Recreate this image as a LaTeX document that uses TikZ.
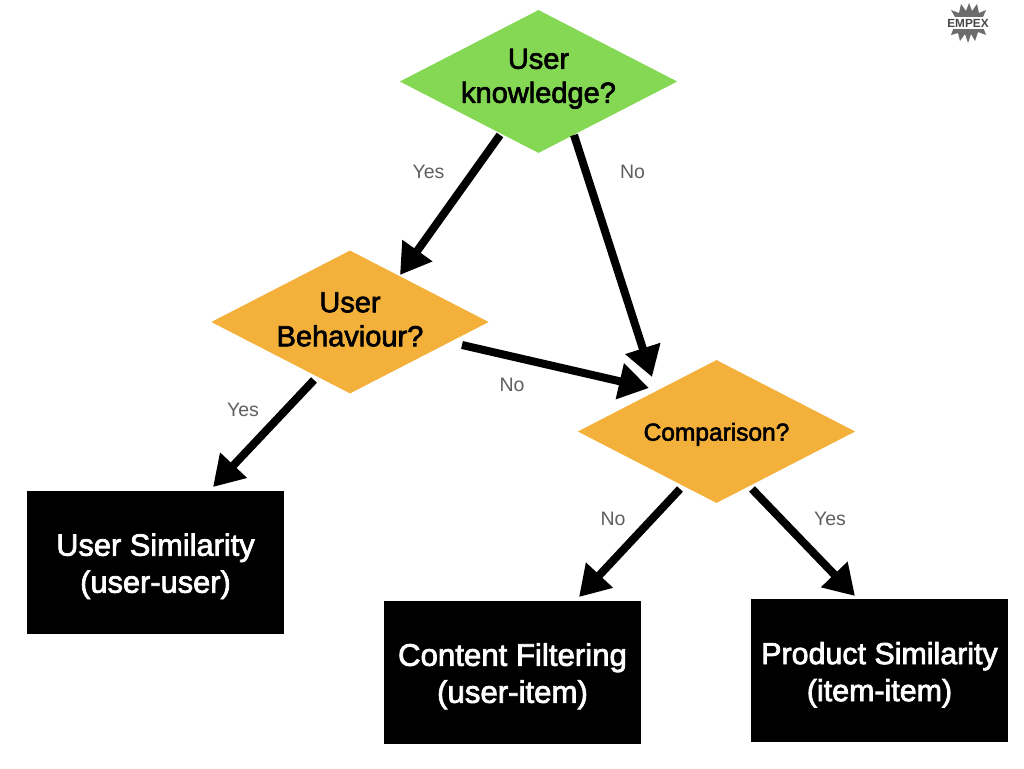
\documentclass[tikz,border=0pt]{standalone}
\usepackage{fontspec}
\setmainfont{Liberation Sans}
\newfontfamily\medfont[FakeBold=2.4]{Liberation Sans}
\newcommand{\shifttext}[2]{\raisebox{#1}[0.7em][0.2em]{#2}}
\usetikzlibrary{shapes.geometric,arrows.meta}
\definecolor{dgreen}{HTML}{85D853}
\definecolor{dorange}{HTML}{F3B13C}
\definecolor{lblgray}{HTML}{606060}
\tikzset{
  decision/.style={diamond,fill=#1,aspect=1.94,inner sep=0pt,minimum width=277.5pt,minimum height=143pt,align=center,font=\medfont\fontsize{29}{34}\selectfont,text=black},
  result/.style={rectangle,fill=black,text=white,inner sep=0pt,minimum width=257.5pt,minimum height=143.5pt,align=center},
  flow/.style={line width=8pt,-{Triangle[length=30pt,width=35pt]},black},
  lbl/.style={text=lblgray,font=\fontsize{19.5}{24}\selectfont,inner sep=0pt}
}
\begin{document}
\begin{tikzpicture}[x=1pt,y=-1pt]
\useasboundingbox (0,0) rectangle (1024,768);
\fill[white] (0,0) rectangle (1024,768);
\node[decision=dgreen] (know) at (538.5,81.5) {\shifttext{3pt}{User}\\\shifttext{3pt}{knowledge?}};
\node[decision=dorange] (behav) at (350,322) {\shifttext{0pt}{User}\\\shifttext{0pt}{Behaviour?}};
\node[decision=dorange,font=\medfont\fontsize{24.5}{28}\selectfont] (comp) at (716.5,431.5) {\shifttext{-3pt}{Comparison?}};
\node[result,font=\medfont\fontsize{30.8}{37}\selectfont] (simuser) at (155.5,562.5) {\shifttext{-4pt}{User Similarity}\\\shifttext{-4pt}{(user-user)}};
\node[result,font=\medfont\fontsize{31.2}{37}\selectfont] (content) at (512.5,672.5) {\shifttext{-4pt}{Content Filtering}\\\shifttext{-4pt}{(user-item)}};
\node[result,font=\medfont\fontsize{30.4}{37}\selectfont] (prod) at (879.5,670.5) {\shifttext{-4.5pt}{Product Similarity}\\\shifttext{-4.5pt}{(item-item)}};
\coordinate (k1) at (500,135);
\coordinate (k1e) at (400,275);
\coordinate (k2) at (574,135);
\coordinate (k2e) at (652,377);
\coordinate (b1) at (462,345);
\coordinate (b1e) at (649,388);
\coordinate (b2) at (314,380);
\coordinate (b2e) at (213,487);
\coordinate (c1) at (680,489);
\coordinate (c1e) at (579,597);
\coordinate (c2) at (752,489);
\coordinate (c2e) at (855,596);
\draw[flow] (k1) -- (k1e);
\draw[flow] (k2) -- (k2e);
\draw[flow] (b1) -- (b1e);
\draw[flow] (b2) -- (b2e);
\draw[flow] (c1) -- (c1e);
\draw[flow] (c2) -- (c2e);
\node[lbl] (l1) at (428.5,171.5) {Yes};
\node[lbl] (l2) at (632.5,171.5) {No};
\node[lbl] (l3) at (512,385) {No};
\node[lbl] (l4) at (243,409.5) {Yes};
\node[lbl] (l5) at (613,519) {No};
\node[lbl] (l6) at (830,519) {Yes};
% logo
\fill[gray!85!black] (947,22) -- (955,17) -- (951,10) -- (959,13) -- (961,4) -- (966,11) -- (969,3) -- (972,11) -- (977,4) -- (979,13) -- (986,10) -- (983,17) -- (989,22) -- (983,27) -- (986,35) -- (978,32) -- (975,41) -- (971,34) -- (968,43) -- (965,34) -- (960,41) -- (958,33) -- (951,35) -- (954,27) -- cycle;
\fill[white] (945,17) rectangle (991,29);
\node[inner sep=0pt,text=black!72,font=\bfseries\fontsize{11.8}{14}\selectfont] (logo) at (968,23) {EMPEX};
\end{tikzpicture}
\end{document}
